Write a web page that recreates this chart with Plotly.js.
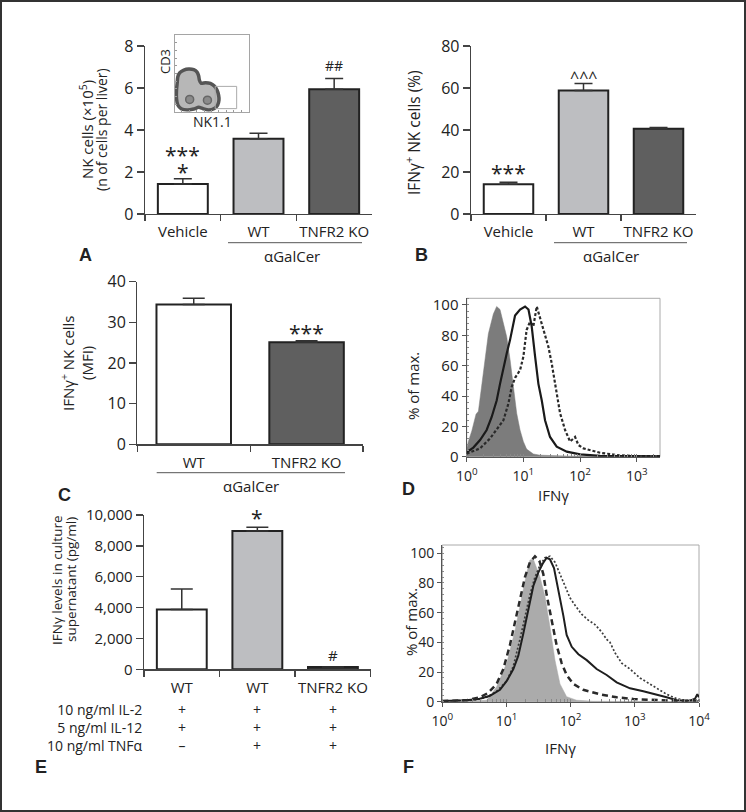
<!DOCTYPE html>
<html><head><meta charset="utf-8">
<script src="https://cdn.plot.ly/plotly-3.0.1.min.js"></script>
<style>html,body{margin:0;padding:0;background:#fff}#chart{width:746px;height:812px}</style>
</head><body><div id="chart"></div>
<script>
// ---------- DATA ----------
// Panel A: NK cells (x10^5) per liver
const groupsAB = ["Vehicle", "WT", "TNFR2 KO"];
const nkCounts = [1.43, 3.58, 5.94];
const nkCountsErr = [0.25, 0.26, 0.51];
// Panel B: IFNγ+ NK cells (%)
const ifngPct = [14.2, 58.8, 40.6];
const ifngPctErr = [0.9, 3.4, 0.6];
// Panel C: IFNγ+ NK cells (MFI)
const groupsC = ["WT", "TNFR2 KO"];
const ifngMfi = [34.4, 25.1];
const ifngMfiErr = [1.5, 0.4];
// Panel E: IFNγ in culture supernatant (pg/ml)
const groupsE = ["WT IL-2+IL-12", "WT IL-2+IL-12+TNFα", "TNFR2 KO IL-2+IL-12+TNFα"];
const groupsELabels = ["WT", "WT", "TNFR2 KO"];
const ifngSup = [3880, 8960, 150];
const ifngSupErr = [1320, 240, 0];
const condLabels = ["10 ng/ml IL-2", "5 ng/ml IL-12", "10 ng/ml TNFα"];
const condIL2 = ["+", "+", "+"];
const condIL12 = ["+", "+", "+"];
const condTNF = ["–", "+", "+"];
// Panel A inset (CD3 vs NK1.1 density outline, 0-100 scale)
const insetOutlineX = [4.5, 7.2, 12.6, 19.3, 26.0, 30.5, 32.7, 33.6, 35.9, 41.7, 48.4, 53.8, 57.4, 59.6, 60.1, 58.3, 53.8, 46.2, 38.6, 32.7, 26.0, 17.0, 9.0, 4.5, 2.7, 2.7, 3.6, 4.5];
const insetOutlineY = [45.7, 50.9, 54.3, 55.7, 54.8, 51.7, 46.5, 41.3, 37.0, 37.8, 37.0, 33.5, 28.3, 21.7, 15.2, 8.7, 4.3, 2.2, 3.9, 5.7, 3.5, 2.2, 3.9, 8.7, 17.4, 28.3, 37.0, 45.7];
const insetCoreX = [20.5, 44.5];
const insetCoreY = [16, 15];
const insetGateX = [55, 84];
const insetGateY = [4, 33];
// Panel D histograms (IFNγ intensity vs % of max)
const dIsoX = [1, 1.07, 1.23, 1.46, 1.61, 1.84, 2.11, 2.41, 2.95, 3.38, 3.87, 4.44, 5.08, 5.82, 6.66, 7.62, 8.73, 9.98, 11.4, 15.0, 19.7, 58, 2570];
const dIsoY = [5, 10, 17, 28, 30, 48, 66, 81, 94, 99, 97, 88, 79, 64, 44, 28.6, 17.6, 10, 5, 1.8, 1, 0.4, 0];
const dSolidX = [1, 1.31, 1.72, 2.25, 2.75, 3.38, 3.87, 4.44, 5.08, 5.82, 7.13, 8.73, 10.7, 12.3, 14.0, 16.1, 18.4, 21.1, 24.1, 29.5, 38.7, 58.2, 100, 226, 2570];
const dSolidY = [3, 6, 11, 17.6, 26, 37, 48, 59, 68, 77, 93, 97, 99, 97, 86, 66, 48, 37, 24, 13, 6.6, 3.3, 1.5, 0.6, 0.3];
const dDotX = [1, 1.72, 2.58, 3.38, 4.44, 5.44, 6.22, 7.13, 8.73, 10, 11.4, 13.1, 15.0, 17.2, 19.2, 22.5, 27.6, 31.6, 36.3, 44.4, 54.4, 66.7, 81.6, 93.4, 115, 150, 226, 444, 874, 2570];
const dDotY = [2, 5.5, 12, 17.6, 24, 35, 46, 52, 57, 66, 83.5, 89, 86, 99, 93, 83.5, 72.5, 61.5, 48, 28.6, 17.6, 10, 13, 7.7, 5.5, 4.4, 2.6, 1.1, 0.4, 0.3];
// Panel F histograms
const fIsoX = [1, 3.04, 4.91, 7.03, 10.1, 13.6, 17.2, 20.6, 23.2, 26.2, 33.3, 39.8, 47.6, 57, 68.2, 86.6, 124, 225, 10000];
const fIsoY = [0, 0.5, 1, 10, 26, 48, 71, 86.5, 95.5, 96, 84, 71, 50.5, 28, 12, 3.4, 1, 0.3, 0];
const fDashX = [1, 2.39, 3.86, 5.21, 7.03, 8.93, 11.3, 13.6, 16.2, 19.4, 23.2, 27.8, 32.5, 37.5, 42.3, 47.6, 53.7, 60.5, 72.4, 86.6, 110, 157, 286, 521, 948, 1941, 3981, 10000];
const fDashY = [0.5, 1, 3, 6, 12, 22, 38, 53, 68, 84, 94, 98, 95, 86, 72, 60, 48, 38, 26, 18, 12, 8, 5, 3, 1.8, 1, 0.6, 0.3];
const fSolidX = [1, 2.39, 3.86, 5.53, 7.92, 10.1, 12.8, 15.3, 18.3, 21.9, 26.2, 31.3, 36.6, 42.3, 47.6, 55, 64.2, 76.9, 86.6, 104, 132, 178, 254, 364, 521, 841, 1357, 2188, 3133, 4487, 7244, 8670, 9418, 10000];
const fSolidY = [0.5, 1, 2, 4, 8, 14, 22, 31, 46, 63, 78, 87, 93, 97, 96, 90, 76, 58, 45, 37, 32, 28, 22, 18, 13, 9, 7, 5, 3, 1, 0.7, 2, 5, 3];
const fDotX = [1, 3.04, 4.91, 7.03, 10.1, 12.8, 16.2, 19.4, 23.2, 27.8, 33.3, 39.8, 47.6, 57, 68.2, 81.6, 97.7, 117, 148, 188, 239, 304, 364, 410, 491, 624, 841, 1205, 1722, 2466, 3133, 4487, 6427, 10000];
const fDotY = [0.3, 1, 3, 7, 14, 24, 42, 58, 72, 84, 92, 97, 98, 94, 86, 77, 70, 65, 59, 55, 52, 47, 42, 40, 33, 26, 22, 16, 12, 8, 5, 2, 0.8, 1];
const logTicks = [1, 10, 100, 1000, 10000];
const logTickText = ["10<sup>0</sup>", "10<sup>1</sup>", "10<sup>2</sup>", "10<sup>3</sup>", "10<sup>4</sup>"];

// ---------- STYLE / LAYOUT HELPERS ----------
const W = 746, H = 812;
const fx = p => p / W, fy = p => 1 - p / H;
const TXT = '#222', AX = '#444';
const barColors3 = ['#ffffff', '#bdbec1', '#5f5f5f'];
const barLine = {color: '#222', width: 2};

function errUp(arr, w) {
  return {type: 'data', symmetric: false, array: arr, arrayminus: arr.map(() => 0), color: '#333', thickness: 1.5, width: w};
}
function catX(d0, d1, anchor, extra) {
  return Object.assign({domain: [fx(d0), fx(d1)], anchor: anchor, type: 'category', tickson: 'boundaries',
    ticks: 'outside', ticklen: 6, tickwidth: 1.3, tickcolor: AX, showline: true, linecolor: AX, linewidth: 1.3,
    tickangle: 0, ticklabelstandoff: 4,
    showgrid: false, zeroline: false, tickfont: {size: 15, color: TXT}, fixedrange: true}, extra || {});
}
function linY(top, bottom, anchor, extra) {
  return Object.assign({domain: [fy(bottom), fy(top)], anchor: anchor, ticks: 'outside', ticklen: 7, tickwidth: 1.3,
    tickcolor: AX, showline: true, linecolor: AX, linewidth: 1.3, showgrid: false, zeroline: false,
    tickfont: {size: 16, color: TXT}, fixedrange: true}, extra || {});
}
function ann(text, x, y, o) {
  return Object.assign({text: text, x: fx(x), y: fy(y), xref: 'paper', yref: 'paper', showarrow: false,
    xanchor: 'center', yanchor: 'middle', font: {size: 15, color: TXT}}, o || {});
}
function rot(text, x, y, size) { return ann(text, x, y, {textangle: -90, font: {size: size || 15, color: TXT}}); }
function letter(t, x, y) { return ann('<b>' + t + '</b>', x, y, {font: {size: 18, color: '#222', family: 'Liberation Sans, Arial, sans-serif'}}); }
function mark(text, xref, xcat, y, size) {
  return {text: text, x: xcat, y: fy(y), xref: xref, yref: 'paper', showarrow: false, xanchor: 'center', yanchor: 'middle',
    font: {size: size, color: TXT}};
}

// ---------- TRACES ----------
const traces = [
  {type: 'bar', x: groupsAB, y: nkCounts, xaxis: 'x', yaxis: 'y', width: 0.66,
   marker: {color: barColors3, line: barLine}, error_y: errUp(nkCountsErr, 9)},
  {type: 'bar', x: groupsAB, y: ifngPct, xaxis: 'x2', yaxis: 'y2', width: 0.66,
   marker: {color: barColors3, line: barLine}, error_y: errUp(ifngPctErr, 9)},
  {type: 'bar', x: groupsC, y: ifngMfi, xaxis: 'x3', yaxis: 'y3', width: 0.66,
   marker: {color: ['#ffffff', '#5f5f5f'], line: barLine}, error_y: errUp(ifngMfiErr, 11)},
  // D
  {type: 'scatter', mode: 'lines', x: dIsoX, y: dIsoY, xaxis: 'x4', yaxis: 'y4', fill: 'tozeroy',
   fillcolor: '#7c7c7c', line: {width: 0.5, color: '#7c7c7c'}},
  {type: 'scatter', mode: 'lines', x: dDotX, y: dDotY, xaxis: 'x4', yaxis: 'y4', line: {width: 2.2, color: '#2a2a2a', dash: '3px,2px'}},
  {type: 'scatter', mode: 'lines', x: dSolidX, y: dSolidY, xaxis: 'x4', yaxis: 'y4', line: {width: 2.2, color: '#1a1a1a'}},
  // E
  {type: 'bar', x: groupsE, y: ifngSup, xaxis: 'x5', yaxis: 'y5', width: 0.66,
   marker: {color: barColors3, line: barLine}, error_y: errUp(ifngSupErr, 11)},
  // F
  {type: 'scatter', mode: 'lines', x: fIsoX, y: fIsoY, xaxis: 'x6', yaxis: 'y6', fill: 'tozeroy',
   fillcolor: '#ababab', line: {width: 0.5, color: '#ababab'}},
  {type: 'scatter', mode: 'lines', x: fDotX, y: fDotY, xaxis: 'x6', yaxis: 'y6', line: {width: 1.7, color: '#3c3c3c', dash: '2px,2px'}},
  {type: 'scatter', mode: 'lines', x: fSolidX, y: fSolidY, xaxis: 'x6', yaxis: 'y6', line: {width: 2, color: '#1e1e1e'}},
  {type: 'scatter', mode: 'lines', x: fDashX, y: fDashY, xaxis: 'x6', yaxis: 'y6', line: {width: 2.5, color: '#2a2a2a', dash: '6px,4px'}},
  // inset
  {type: 'scatter', mode: 'lines', x: insetOutlineX, y: insetOutlineY, xaxis: 'x7', yaxis: 'y7', fill: 'toself',
   fillcolor: '#b7b7b7', line: {color: '#555', width: 3.5, shape: 'spline', smoothing: 0.6}},
  {type: 'scatter', mode: 'markers', x: insetCoreX, y: insetCoreY, xaxis: 'x7', yaxis: 'y7',
   marker: {size: 8, color: '#8a8a8a', line: {color: '#666', width: 1.5}, symbol: 'circle'}}
];

// ---------- LAYOUT ----------
const layout = {
  width: W, height: H, margin: {l: 0, r: 0, t: 0, b: 0}, showlegend: false,
  paper_bgcolor: '#fff', plot_bgcolor: 'rgba(0,0,0,0)',
  font: {family: 'Open Sans, Noto Sans, sans-serif', color: TXT},
  // A
  xaxis: catX(145, 372, 'y', {range: [-0.5, 2.5]}),
  yaxis: linY(46, 214, 'x', {range: [0, 8], dtick: 2}),
  // B
  xaxis2: catX(471, 696, 'y2', {range: [-0.5, 2.5]}),
  yaxis2: linY(46, 214, 'x2', {range: [0, 80], dtick: 20}),
  // C
  xaxis3: catX(137.3, 363, 'y3', {range: [-0.5, 1.5]}),
  yaxis3: linY(281.7, 444.3, 'x3', {range: [0, 40], dtick: 10}),
  // D
  xaxis4: {domain: [fx(466.7), fx(660)], anchor: 'y4', type: 'log', range: [0, 3.41], tickmode: 'array',
    tickvals: logTicks.slice(0, 4), ticktext: logTickText.slice(0, 4), ticks: 'outside', ticklen: 4, tickcolor: '#555',
    ticklabelstandoff: 2, tickangle: 0,
    showline: true, linecolor: '#555', linewidth: 1.2, showgrid: false, zeroline: false,
    tickfont: {size: 14, color: TXT}, minor: {dtick: 'D1', ticks: 'inside', ticklen: 3, tickcolor: '#888'}, fixedrange: true},
  yaxis4: {domain: [fy(456.7), fy(298.3)], anchor: 'x4', range: [0, 104.4], dtick: 20, ticks: 'outside', ticklen: 4,
    tickcolor: '#555', showline: true, linecolor: '#555', linewidth: 1.2, showgrid: false, zeroline: false,
    tickfont: {size: 15, color: TXT}, minor: {dtick: 4, ticks: 'inside', ticklen: 2, tickcolor: '#888'}, fixedrange: true},
  // E
  xaxis5: catX(144, 370.7, 'y5', {range: [-0.5, 2.5], tickmode: 'array', tickvals: groupsE, ticktext: groupsELabels}),
  yaxis5: linY(515, 669.3, 'x5', {range: [0, 10000], dtick: 2000, tickformat: ',d', tickfont: {size: 15, color: TXT}}),
  // F
  xaxis6: {domain: [fx(442.3), fx(699)], anchor: 'y6', type: 'log', range: [0, 4], tickmode: 'array',
    tickvals: logTicks, ticktext: logTickText, ticks: 'outside', ticklen: 4, tickcolor: '#555',
    ticklabelstandoff: 2, tickangle: 0,
    showline: true, linecolor: '#555', linewidth: 1.2, showgrid: false, zeroline: false,
    tickfont: {size: 14, color: TXT}, minor: {dtick: 'D1', ticks: 'inside', ticklen: 3, tickcolor: '#888'}, fixedrange: true},
  yaxis6: {domain: [fy(701.7), fy(545)], anchor: 'x6', range: [0, 105.6], dtick: 20, ticks: 'outside', ticklen: 4,
    tickcolor: '#555', showline: true, linecolor: '#555', linewidth: 1.2, showgrid: false, zeroline: false,
    tickfont: {size: 14, color: TXT}, minor: {dtick: 4, ticks: 'inside', ticklen: 2, tickcolor: '#888'}, fixedrange: true},
  // inset
  xaxis7: {domain: [fx(174.5), fx(248.5)], anchor: 'y7', range: [0, 100], showticklabels: false, ticks: 'inside',
    ticklen: 2, dtick: 10, tickcolor: '#999', showline: true, mirror: true, linecolor: '#a5a5a5', linewidth: 1,
    showgrid: false, zeroline: false, fixedrange: true},
  yaxis7: {domain: [fy(111.7), fy(35)], anchor: 'x7', range: [0, 100], showticklabels: false, ticks: 'inside',
    ticklen: 2, dtick: 10, tickcolor: '#999', showline: true, mirror: true, linecolor: '#a5a5a5', linewidth: 1,
    showgrid: false, zeroline: false, fixedrange: true},
  shapes: [
    {type: 'rect', xref: 'paper', yref: 'paper', x0: 0, x1: 1, y0: 0, y1: 1, line: {color: '#333', width: 4}},
    // underlines for αGalCer groups
    {type: 'line', xref: 'paper', yref: 'paper', x0: fx(228), x1: fx(362), y0: fy(242.7), y1: fy(242.7), line: {color: '#555', width: 1}},
    {type: 'line', xref: 'paper', yref: 'paper', x0: fx(554), x1: fx(687), y0: fy(242.7), y1: fy(242.7), line: {color: '#555', width: 1}},
    {type: 'line', xref: 'paper', yref: 'paper', x0: fx(156.7), x1: fx(345), y0: fy(472.7), y1: fy(472.7), line: {color: '#555', width: 1}},
    // histogram frames
    {type: 'rect', xref: 'x4 domain', yref: 'y4 domain', x0: 0, x1: 1, y0: 0, y1: 1, line: {color: '#aaa', width: 1}, layer: 'below'},
    {type: 'rect', xref: 'x6 domain', yref: 'y6 domain', x0: 0, x1: 1, y0: 0, y1: 1, line: {color: '#aaa', width: 1}, layer: 'below'},
    // inset gate
    {type: 'rect', xref: 'x7', yref: 'y7', x0: insetGateX[0], x1: insetGateX[1], y0: insetGateY[0], y1: insetGateY[1],
     line: {color: '#aaa', width: 1}}
  ],
  annotations: [
    // A
    rot('NK cells (×10<sup>5</sup>)', 87, 130, 15), rot('(n of cells per liver)', 102, 130, 14),
    ann('αGalCer', 291.7, 256), letter('A', 85, 255),
    mark('***', 'x', 'Vehicle', 155, 21), mark('*', 'x', 'Vehicle', 172, 21), mark('##', 'x', 'TNFR2 KO', 66, 14),
    rot('CD3', 165, 62, 13), ann('NK1.1', 212, 121, {font: {size: 14, color: TXT}}),
    // B
    rot('IFNγ<sup>+</sup> NK cells (%)', 413, 133, 15.5),
    ann('αGalCer', 610.7, 256), letter('B', 421, 255),
    mark('***', 'x2', 'Vehicle', 173, 21), mark('^^^', 'x2', 'WT', 77, 16),
    // C
    rot('IFNγ<sup>+</sup> NK cells', 67, 363, 15), rot('(MFI)', 87, 363, 15),
    ann('αGalCer', 250.7, 486), letter('C', 64, 495),
    mark('***', 'x3', 'TNFR2 KO', 333, 21),
    // D
    rot('% of max.', 413, 386, 15), ann('IFNγ', 553, 495), letter('D', 408, 489),
    // E
    rot('IFNγ levels in culture', 57, 580, 13.5), rot('supernatant (pg/ml)', 71, 580, 13.5),
    mark('*', 'x5', groupsE[1], 518, 21), mark('#', 'x5', groupsE[2], 655, 15),
    ann(condLabels.join('<br>'), 145, 727, {xanchor: 'right', align: 'right', font: {size: 14, color: TXT}}),
    letter('E', 40.5, 767),
    // F
    rot('% of max.', 411, 622, 15), ann('IFNγ', 560, 748), letter('F', 408, 767)
  ]
};
// condition table columns for E
const condRows = [condIL2, condIL12, condTNF];
groupsE.forEach((g, i) => {
  const a = mark(condRows.map(r => r[i]).join('<br>'), 'x5', g, 727, 14);
  layout.annotations.push(a);
});

Plotly.newPlot('chart', traces, layout, {displayModeBar: false, staticPlot: true});
</script>
</body></html>
